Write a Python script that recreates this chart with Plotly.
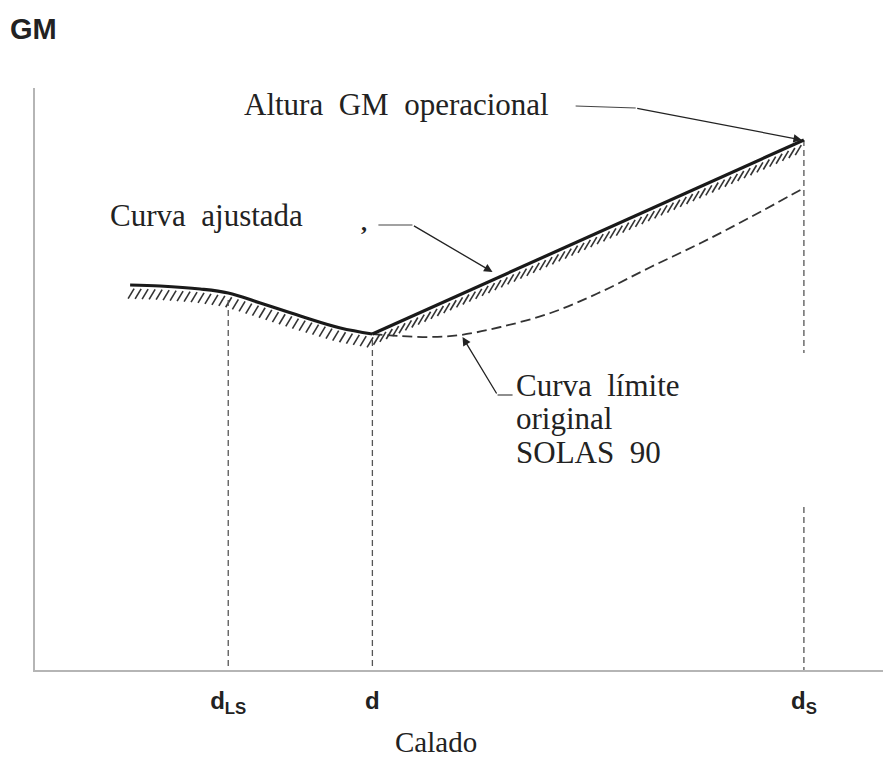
import numpy as np
import plotly.graph_objects as go

# ---- data (x = draft, y = GM, arbitrary units) ----
adj_x = [0.95, 1.25, 1.65, 1.93, 2.25, 2.65, 3.05, 3.37, 7.68]   # Curva ajustada
adj_y = [3.85, 3.84, 3.81, 3.77, 3.67, 3.54, 3.42, 3.36, 5.30]
sol_x = [3.37, 3.65, 3.95, 4.25, 4.65, 5.15, 5.65, 6.15, 6.65, 7.15, 7.68]  # SOLAS 90
sol_y = [3.36, 3.34, 3.33, 3.35, 3.43, 3.57, 3.78, 4.03, 4.27, 4.53, 4.82]
draft_vals = [1.93, 3.37, 7.68]
draft_labels = ["d<sub>LS</sub>", "d", "d<sub>S</sub>"]

X_MAX, Y_MAX = 8.56, 5.82
SERIF = "Liberation Serif"
SANS = "Liberation Sans"
INK = "#1a1a1a"

fig = go.Figure()

# hatching under the adjusted curve (derived from the curve itself)
ax_ = np.array(adj_x)
ay_ = np.array(adj_y)
seg = np.hypot(np.diff(ax_), np.diff(ay_))
cum = np.concatenate([[0], np.cumsum(seg)])
s_vals = np.arange(0.03, cum[-1] - 0.02, 0.07)
hx, hy = [], []
for s in s_vals:
    px = np.interp(s, cum, ax_)
    py = np.interp(s, cum, ay_)
    hx += [px + 0.01, px - 0.05, None]
    hy += [py - 0.035, py - 0.135, None]
fig.add_trace(go.Scatter(x=hx, y=hy, mode="lines",
                         line=dict(color="#333", width=1.6), hoverinfo="skip"))

# vertical dashed draft lines
k = draft_vals
top_ls = float(np.interp(k[0], adj_x, adj_y)) - 0.07
top_d = float(np.interp(k[1], adj_x, adj_y)) - 0.06
top_s = float(np.interp(k[2], adj_x, adj_y))
vx = [k[0], k[0], None, k[1], k[1], None, k[2], k[2], None, k[2], k[2]]
vy = [top_ls, 0, None, top_d, 0, None, top_s, 3.17, None, 1.63, 0]
fig.add_trace(go.Scatter(x=vx, y=vy, mode="lines",
                         line=dict(color="#555", width=1.3, dash="6px,4px"),
                         hoverinfo="skip"))

# original SOLAS 90 limit curve (dashed)
fig.add_trace(go.Scatter(x=sol_x, y=sol_y, mode="lines", line_shape="spline",
                         line=dict(color="#333", width=1.8, dash="10px,5px"),
                         hoverinfo="skip"))

# adjusted curve (solid)
fig.add_trace(go.Scatter(x=adj_x[:8], y=adj_y[:8], mode="lines", line_shape="spline",
                         line=dict(color=INK, width=3.2), hoverinfo="skip"))
fig.add_trace(go.Scatter(x=adj_x[7:], y=adj_y[7:], mode="lines",
                         line=dict(color=INK, width=3.2), hoverinfo="skip"))

# leader polylines
fig.add_trace(go.Scatter(x=[5.40, 6.00], y=[5.64, 5.62], mode="lines",
                         line=dict(color="#444", width=1.2), hoverinfo="skip"))
fig.add_trace(go.Scatter(x=[3.43, 3.77], y=[4.45, 4.45], mode="lines",
                         line=dict(color="#444", width=1.2), hoverinfo="skip"))
fig.add_trace(go.Scatter(x=[4.62, 4.77], y=[2.75, 2.75], mode="lines",
                         line=dict(color="#444", width=1.2), hoverinfo="skip"))

ann = []
def arrow(x, y, axx, ayy):
    ann.append(dict(x=x, y=y, ax=axx, ay=ayy, xref="x", yref="y", axref="x", ayref="y",
                    text="", showarrow=True, arrowhead=2, arrowsize=1.3,
                    arrowwidth=1.3, arrowcolor="#222"))

arrow(7.66, 5.30, 6.00, 5.62)
arrow(4.57, 3.98, 3.77, 4.45)
arrow(4.27, 3.33, 4.62, 2.75)

def txt(x, y, t, size=31, family=SERIF, xanchor="center", ref="x", color="#222"):
    ann.append(dict(x=x, y=y, xref="x" if ref == "x" else "paper",
                    yref="y" if ref == "x" else "paper", text=t, showarrow=False,
                    xanchor=xanchor, yanchor="middle",
                    font=dict(family=family, size=size, color=color)))

txt(3.61, 5.66, "Altura  GM  operacional")
txt(1.71, 4.55, "Curva  ajustada")
txt(3.29, 4.48, "<b>,</b>", size=24)
txt(4.78, 2.85, "Curva  límite", xanchor="left")
txt(4.78, 2.52, "original", xanchor="left")
txt(4.78, 2.18, "SOLAS  90", xanchor="left")
# outside the plot area: paper coordinates
txt(-0.031, 1.101, "<b>GM</b>", size=29, family=SANS, xanchor="left", ref="paper")
txt(0.468, -0.124, "Calado", size=29, ref="paper")

fig.update_layout(
    width=884, height=752,
    margin=dict(l=27, r=0, t=80, b=90),
    paper_bgcolor="white", plot_bgcolor="white",
    showlegend=False,
    annotations=ann,
    xaxis=dict(range=[0, X_MAX], showgrid=False, zeroline=False,
               showline=True, linecolor="#b5b5b5", linewidth=2,
               tickvals=draft_vals, ticktext=["<b>%s</b>" % t for t in draft_labels],
               ticks="outside", ticklen=8, tickcolor="rgba(0,0,0,0)",
               tickfont=dict(family=SANS, size=24, color="#222")),
    yaxis=dict(range=[0, Y_MAX], showgrid=False, zeroline=False,
               showline=True, linecolor="#b5b5b5", linewidth=2,
               showticklabels=False, ticks=""),
)

fig.write_html("out.html")
